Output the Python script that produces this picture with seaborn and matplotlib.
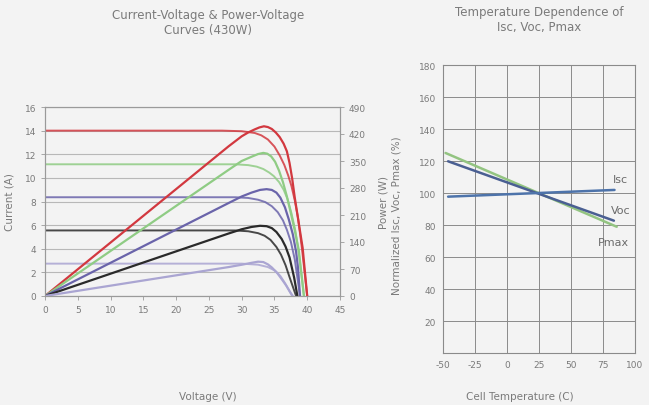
import matplotlib
matplotlib.use("Agg")
import matplotlib.pyplot as plt
import seaborn as sns

# I-V curves (current in A) for the five irradiance levels
volt_1000_iv = [0, 27, 30, 32, 33, 34, 35, 35.8, 36.5, 37.1, 37.6, 38.1, 38.6, 39.2, 40]
amp_1000 = [14.0, 14.0, 13.95, 13.8, 13.6, 13.25, 12.65, 11.9, 11.1, 10.2, 9.3, 8.1, 6.6, 4.0, 0]
volt_800_iv = [0, 29, 31, 32.3, 33.3, 34.2, 34.9, 35.7, 36.4, 37.0, 37.6, 38.2, 38.8, 39.5]
amp_800 = [11.15, 11.15, 11.08, 10.95, 10.75, 10.45, 10.15, 9.65, 9.0, 8.2, 7.0, 5.5, 3.3, 0]
volt_600_iv = [0, 29, 31, 32.5, 33.6, 34.6, 35.5, 36.3, 36.9, 37.5, 38.1, 38.9]
amp_600 = [8.36, 8.36, 8.3, 8.15, 7.95, 7.6, 7.1, 6.4, 5.6, 4.6, 3.1, 0]
volt_400_iv = [0, 29, 31, 32.5, 33.5, 34.4, 35.3, 36.0, 36.7, 37.3, 37.8, 38.3]
amp_400 = [5.55, 5.55, 5.48, 5.32, 5.1, 4.75, 4.15, 3.5, 2.6, 1.6, 0.8, 0]
volt_200_iv = [0, 30, 32.5, 34.0, 35.1, 35.9, 36.6, 37.1, 37.7]
amp_200 = [2.74, 2.74, 2.65, 2.45, 2.14, 1.7, 1.1, 0.6, 0]

# P-V curves (power in W)
volt_1000_pv = [0, 28, 30, 31, 32, 32.7, 33.4, 34, 34.6, 35.2, 35.8, 36.4, 36.9, 37.3, 37.7, 38.1, 38.7, 39.3, 40]
watt_1000 = [0, 388, 414, 424, 432, 437, 440, 438, 433, 424, 412, 395, 375, 345, 305, 255, 190, 125, 0]
volt_800_pv = [0, 28, 30, 31.5, 32.5, 33.3, 33.9, 34.5, 35.1, 35.7, 36.3, 36.9, 37.5, 38.1, 38.7, 39.5]
watt_800 = [0, 327, 350, 361, 368, 371, 369, 362, 348, 325, 295, 258, 215, 170, 120, 0]
volt_600_pv = [0, 28, 30, 31.5, 32.8, 33.8, 34.6, 35.3, 35.9, 36.6, 37.2, 37.8, 38.3, 38.6, 38.9]
watt_600 = [0, 241, 258, 268, 275, 277, 275, 268, 255, 230, 198, 160, 115, 72, 0]
volt_400_pv = [0, 28, 30, 31.5, 32.8, 33.8, 34.6, 35.3, 36.1, 36.7, 37.3, 38.0, 38.5]
watt_400 = [0, 162, 173, 179, 182, 181, 176, 166, 148, 128, 100, 48, 0]
volt_200_pv = [0, 28, 30, 31.5, 32.5, 33.3, 34.0, 34.6, 35.4, 36.1, 36.8, 37.4, 37.8]
watt_200 = [0, 75, 81, 86, 89, 88, 82, 74, 60, 44, 27, 10, 0]

curve_colors = ["#d2383f", "#8fcc84", "#6a64aa", "#2a2a2a", "#aaa5d2"]

# temperature dependence (% of STC value)
temp_isc = [-46, 84]
isc_pct = [97.9, 102.1]
temp_voc = [-46, 83.5]
voc_pct = [120.0, 82.9]
temp_pmax = [-48, 85.7]
pmax_pct = [125.2, 79.1]

txt = "#7a7a7a"
bg = "#f3f3f3"
grid = "#b8b8b8"

sns.set_theme(style="white")
plt.rcParams["font.family"] = ["DejaVu Sans"]
plt.rcParams["axes.unicode_minus"] = False

fig = plt.figure(figsize=(6.49, 4.06), dpi=100, facecolor=bg)

# ---- left: I-V and P-V curves
ax = fig.add_axes([45 / 649, 1 - 297 / 406, 295 / 649, 189 / 406])
ax.set_facecolor(bg)
ax2 = ax.twinx()

iv_sets = [(volt_1000_iv, amp_1000), (volt_800_iv, amp_800), (volt_600_iv, amp_600),
           (volt_400_iv, amp_400), (volt_200_iv, amp_200)]
pv_sets = [(volt_1000_pv, watt_1000), (volt_800_pv, watt_800), (volt_600_pv, watt_600),
           (volt_400_pv, watt_400), (volt_200_pv, watt_200)]

for (v, i), c in zip(iv_sets, curve_colors):
    sns.lineplot(x=v, y=i, ax=ax, color=c, lw=1.4, alpha=0.85, estimator=None, sort=False)
for (v, p), c in zip(pv_sets, curve_colors):
    sns.lineplot(x=v, y=p, ax=ax2, color=c, lw=1.6, estimator=None, sort=False)

ax.set_xlim(0, 45)
ax.set_ylim(0, 16)
ax2.set_ylim(0, 490)
ax.set_xticks(range(0, 46, 5))
ax.set_yticks(range(0, 17, 2))
ax2.set_yticks(range(0, 491, 70))
ax.yaxis.grid(True, color=grid, lw=0.8)
ax.set_axisbelow(True)
for a in (ax, ax2):
    for s in a.spines.values():
        s.set_color("#9a9a9a")
        s.set_linewidth(0.8)
    a.tick_params(labelsize=6.5, labelcolor=txt, color="#9a9a9a", length=3, width=0.6)
ax.tick_params(left=True, bottom=True)
ax2.tick_params(right=True)

ax.set_ylabel("Current (A)", color=txt, fontsize=7.5)
ax.yaxis.set_label_coords(-0.105, 0.5)
ax2.set_ylabel("Power (W)", color=txt, fontsize=7.5)
ax2.yaxis.set_label_coords(1.132, 0.5)
ax.set_xlabel("")
fig.text(208 / 649, 1 - 397 / 406, "Voltage (V)", ha="center", va="center",
         color=txt, fontsize=7.5)

fig.text(208 / 649, 1 - 23 / 406, "Current-Voltage & Power-Voltage\nCurves (430W)",
         ha="center", va="center", color=txt, fontsize=8.5, linespacing=1.15)

# ---- right: temperature dependence
bx = fig.add_axes([443 / 649, 1 - 354.3 / 406, 192 / 649, 288 / 406])
bx.set_facecolor(bg)
sns.lineplot(x=temp_pmax, y=pmax_pct, ax=bx, color="#93c481", lw=1.8)
sns.lineplot(x=temp_voc, y=voc_pct, ax=bx, color="#4a5f92", lw=1.8)
sns.lineplot(x=temp_isc, y=isc_pct, ax=bx, color="#4d73aa", lw=1.8)

bx.set_xlim(-50, 100)
bx.set_ylim(0, 180)
bx.set_xticks(range(-50, 101, 25))
bx.set_yticks(range(20, 181, 20))
bx.grid(True, color="#8a8a8a", lw=0.7)
bx.set_axisbelow(True)
for s in bx.spines.values():
    s.set_color("#8a8a8a")
    s.set_linewidth(0.8)
bx.tick_params(labelsize=6.5, labelcolor=txt, length=0, pad=5)

bx.text(88.3, 108.9, "Isc", ha="center", va="center", color="#6a6a6a", fontsize=8)
bx.text(89, 89.6, "Voc", ha="center", va="center", color="#6a6a6a", fontsize=8)
bx.text(83.4, 69.4, "Pmax", ha="center", va="center", color="#6a6a6a", fontsize=8)

bx.set_ylabel("Normalized Isc, Voc, Pmax (%)", color=txt, fontsize=7.5)
bx.yaxis.set_label_coords(-0.214, 0.48)
bx.set_xlabel("")
fig.text(520 / 649, 1 - 397 / 406, "Cell Temperature (C)", ha="center", va="center",
         color=txt, fontsize=7.5)

fig.text(539 / 649, 1 - 20 / 406, "Temperature Dependence of\nIsc, Voc, Pmax",
         ha="center", va="center", color=txt, fontsize=8.5, linespacing=1.15)

fig.savefig("out.png", dpi=100, facecolor=bg)
